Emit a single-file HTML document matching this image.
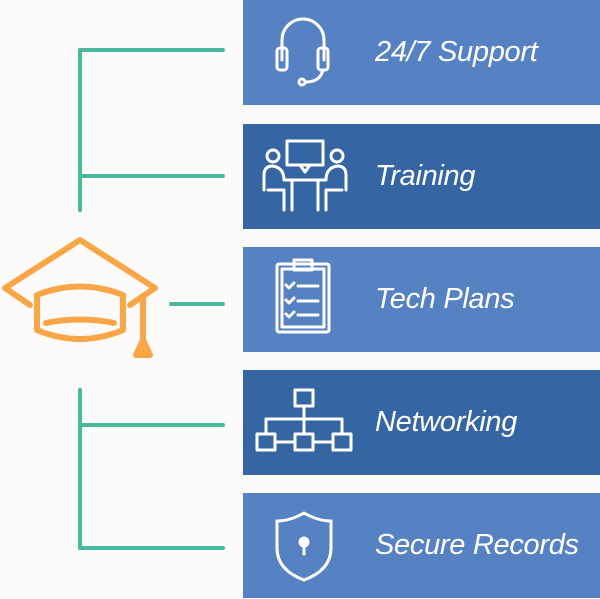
<!DOCTYPE html>
<html><head><style>
body{margin:0;width:600px;height:599px;background:#fdfbfa;position:relative;overflow:hidden;font-family:"Liberation Sans",sans-serif}
.b{position:absolute;left:243px;width:357px;height:105px}
.l{background:#5681c2}.d{background:#3565a3}
.t{position:absolute;left:132px;top:0;line-height:105px;color:#fff;font-style:italic;font-size:29px;letter-spacing:-0.3px}
svg{position:absolute;left:0;top:0}
</style></head><body>
<div class="b l" style="top:0"><div class="t">24/7 Support</div></div>
<div class="b d" style="top:124px"><div class="t">Training</div></div>
<div class="b l" style="top:247px"><div class="t">Tech Plans</div></div>
<div class="b d" style="top:370px"><div class="t">Networking</div></div>
<div class="b l" style="top:493px"><div class="t">Secure Records</div></div>
<svg width="600" height="599" fill="none" stroke-linecap="round" stroke-linejoin="round">
<g stroke="#48b99a" stroke-width="4">
<path d="M80 210V50H223M80 176H223M171 304H223M80 390V548H223M80 425H223"/>
</g>
<g stroke="#f9a646" stroke-width="6">
<path d="M80 240L155 288L130 305M30 305L5 288L80 240"/>
<path d="M37 295V330Q80 348 123 330V295Q80 278 37 295Z"/>
<path d="M46 323Q80 316 114 323"/>
<path d="M143 296V340"/>
<path d="M143 340L136 355H150Z" fill="#f9a646"/>
</g>
<g stroke="#fff" stroke-width="3">
<path d="M282 60V40A21 21 0 0 1 324 40V60"/><rect x="277" y="48" width="10" height="22" rx="3"/><rect x="318" y="48" width="10" height="22" rx="3"/>
<path d="M323 70Q320 82 306 82"/><circle cx="302" cy="82" r="3"/>
<circle cx="273" cy="156" r="6"/><circle cx="337" cy="156" r="6"/>
<rect x="287" y="141" width="36" height="24"/><path d="M300 165L305 172L310 165"/>
<path d="M264 190V175Q264 166 273 166Q284 168 284 180H292V210M268 190H284V210M346 190V175Q346 166 337 166Q326 168 326 180H318V210M342 190H326V210M288 180H322"/>
<rect x="277" y="264" width="52" height="68" rx="2"/><rect x="282" y="269" width="42" height="58"/><rect x="294" y="260" width="18" height="10"/>
<path d="M286 285l3 3 5-5M298 286h20M286 300l3 3 5-5M298 301h20M286 314l3 3 5-5M298 315h20"/>
<rect x="295" y="390" width="18" height="16"/><rect x="257" y="434" width="18" height="16"/><rect x="295" y="434" width="18" height="16"/><rect x="333" y="434" width="18" height="16"/>
<path d="M304 406V434M266 434V419H342V434M275 442H295M313 442H333"/>
<path d="M304 513Q290 521 277 521V548Q277 570 304 580Q331 570 331 548V521Q318 521 304 513Z"/>
<circle cx="304" cy="542" r="4" fill="#fff"/><path d="M304 545V554"/>
</g>
</svg>
</body></html>
